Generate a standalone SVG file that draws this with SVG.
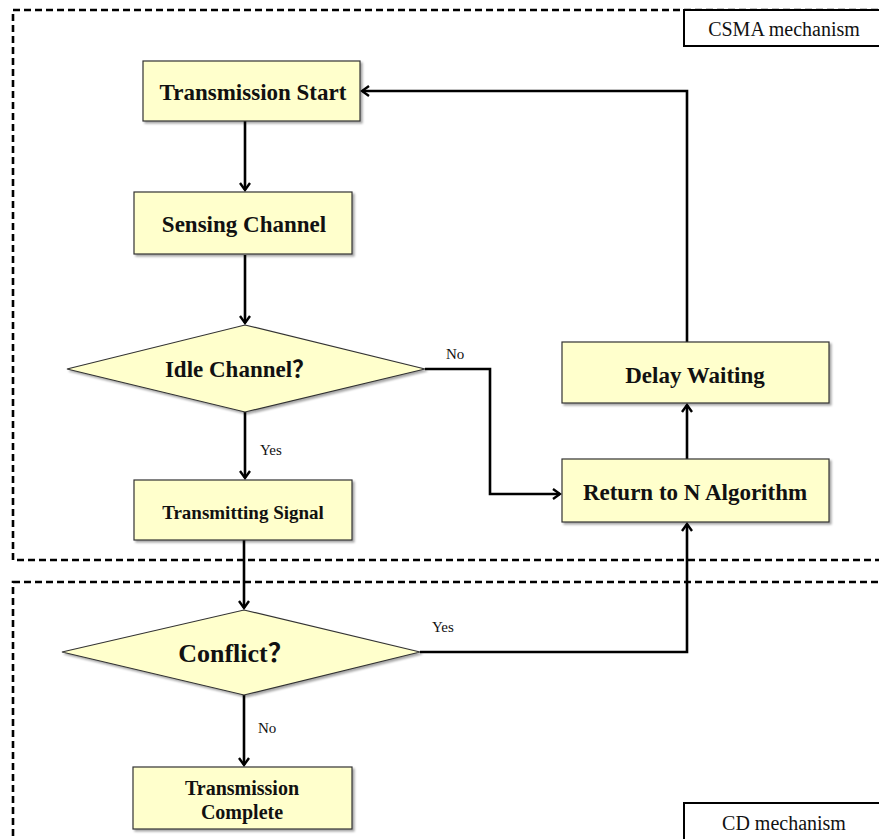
<svg xmlns="http://www.w3.org/2000/svg" width="879" height="839" viewBox="0 0 879 839">
<style>
.box{fill:#FFFFCC;stroke:#333;stroke-width:1.2;filter:url(#sh)}
.t{font-family:"Liberation Serif","Noto Sans CJK SC",serif;font-weight:bold;fill:#111;text-anchor:middle;dominant-baseline:central}
.lbl{font-family:"Liberation Serif",serif;font-size:15px;fill:#111}
.frame{fill:none;stroke:#000;stroke-width:2.6;stroke-dasharray:7 4}
.cap{fill:#fff;stroke:#000;stroke-width:2}
.capt{font-family:"Liberation Serif",serif;font-size:20px;fill:#111;text-anchor:middle;dominant-baseline:central}
.c{fill:none;stroke:#000;stroke-width:2.6;marker-end:url(#ah)}
</style>
<defs>
<filter id="sh" x="-10%" y="-10%" width="130%" height="140%">
<feDropShadow dx="2" dy="2" stdDeviation="1.2" flood-color="#000" flood-opacity="0.35"/>
</filter>
<marker id="ah" viewBox="0 0 12 12" refX="10" refY="6" markerWidth="12" markerHeight="12" markerUnits="userSpaceOnUse" orient="auto">
<path d="M3,1 L10,6 L3,11" fill="none" stroke="#000" stroke-width="2.4"/>
</marker>
</defs>
<rect width="879" height="839" fill="#fff"/>
<g id="frames">
<rect class="frame" x="13" y="10" width="880" height="550"/>
<rect class="frame" x="13" y="582" width="880" height="270"/>
</g>
<g id="csma-label">
<rect class="cap" x="684" y="10" width="205" height="36"/>
<text class="capt" x="784" y="29">CSMA mechanism</text>
</g>
<g id="cd-label">
<rect class="cap" x="684" y="803" width="205" height="40"/>
<text class="capt" x="784" y="823">CD mechanism</text>
</g>
<g id="connectors">
<path class="c" d="M245,121 V190"/>
<path class="c" d="M245,255 V323"/>
<path class="c" d="M245,412 V478"/>
<path class="c" d="M425,369 H490 V494 H560"/>
<path class="c" d="M687,459 V405"/>
<path class="c" d="M687,342 V91 H362"/>
<path class="c" d="M244,540 V608"/>
<path class="c" d="M420,652 H687 V524"/>
<path class="c" d="M244,695 V765"/>
<text class="lbl" x="446" y="359">No</text>
<text class="lbl" x="260" y="455">Yes</text>
<text class="lbl" x="432" y="632">Yes</text>
<text class="lbl" x="258" y="733">No</text>
</g>
<g id="n-start">
<rect class="box" x="143" y="61" width="217" height="60"/>
<text class="t" x="253" y="92" font-size="23">Transmission Start</text>
</g>
<g id="n-sense">
<rect class="box" x="134" y="192" width="218" height="62"/>
<text class="t" x="244" y="224" font-size="23">Sensing Channel</text>
</g>
<g id="n-idle">
<polygon class="box" points="67,369 245,325 425,369 245,412"/>
<text class="t" x="240" y="369" font-size="23">Idle Channel？</text>
</g>
<g id="n-tx">
<rect class="box" x="134" y="480" width="218" height="60"/>
<text class="t" x="243" y="512" font-size="19">Transmitting Signal</text>
</g>
<g id="n-delay">
<rect class="box" x="562" y="342" width="267" height="61"/>
<text class="t" x="695" y="375" font-size="23">Delay Waiting</text>
</g>
<g id="n-return">
<rect class="box" x="562" y="459" width="267" height="63"/>
<text class="t" x="695" y="492" font-size="23">Return to N Algorithm</text>
</g>
<g id="n-conflict">
<polygon class="box" points="62,652 244,610 420,652 244,695"/>
<text class="t" x="236" y="653" font-size="26">Conflict？</text>
</g>
<g id="n-complete">
<rect class="box" x="133" y="767" width="219" height="62"/>
<text class="t" x="242" y="788" font-size="20">Transmission</text>
<text class="t" x="242" y="812" font-size="20">Complete</text>
</g>
</svg>
